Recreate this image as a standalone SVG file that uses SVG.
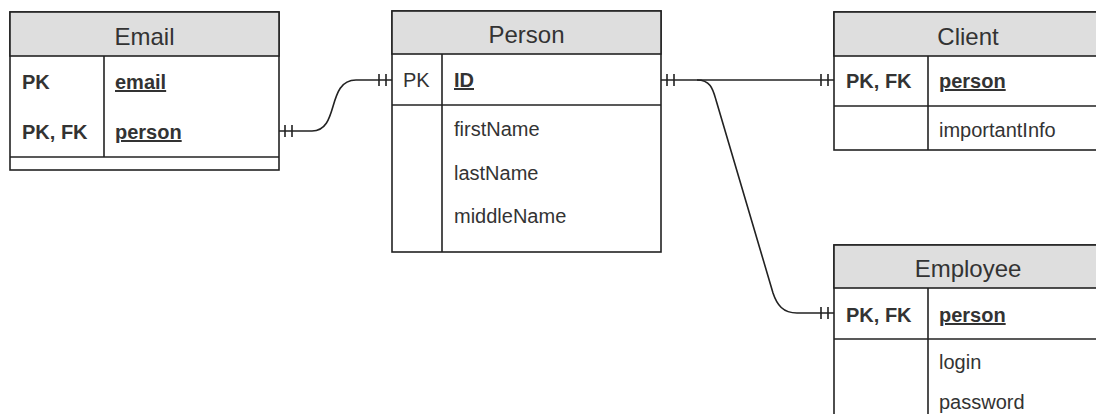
<svg xmlns="http://www.w3.org/2000/svg" width="1096" height="414" viewBox="0 0 1096 414">
<style>
.box{fill:#fff;stroke:#222;stroke-width:1.6}
.hdr{fill:#dedede;stroke:#222;stroke-width:1.6}
.ln{stroke:#222;stroke-width:1.6;fill:none}
.title{font-family:"Liberation Sans",Arial,sans-serif;font-size:24px;fill:#333;text-anchor:middle}
.t{font-family:"Liberation Sans",Arial,sans-serif;font-size:20px;fill:#333}
.b{font-weight:bold}
.u{text-decoration:underline}
.conn{stroke:#222;stroke-width:1.6;fill:none}
</style>
<rect width="1096" height="414" fill="#fff"/>
<g id="email">
<rect class="box" x="10" y="12" width="269" height="158"/>
<rect class="hdr" x="10" y="12" width="269" height="44"/>
<line class="ln" x1="104" y1="56" x2="104" y2="157"/>
<line class="ln" x1="10" y1="157" x2="279" y2="157"/>
<text class="title" x="144.5" y="45">Email</text>
<text class="t b" x="22" y="89">PK</text>
<text class="t b u" x="115" y="89">email</text>
<text class="t b" x="22" y="139">PK, FK</text>
<text class="t b u" x="115" y="139">person</text>
</g>
<g id="person">
<rect class="box" x="392" y="11" width="269" height="241"/>
<rect class="hdr" x="392" y="11" width="269" height="43"/>
<line class="ln" x1="392" y1="105" x2="661" y2="105"/>
<line class="ln" x1="442" y1="54" x2="442" y2="252"/>
<text class="title" x="526.5" y="43">Person</text>
<text class="t" x="403" y="87">PK</text>
<text class="t b u" x="454" y="87">ID</text>
<text class="t" x="454" y="136">firstName</text>
<text class="t" x="454" y="180">lastName</text>
<text class="t" x="454" y="223">middleName</text>
</g>
<g id="client">
<rect class="box" x="834" y="12" width="268" height="138"/>
<rect class="hdr" x="834" y="12" width="268" height="44"/>
<line class="ln" x1="834" y1="106" x2="1102" y2="106"/>
<line class="ln" x1="928" y1="56" x2="928" y2="150"/>
<text class="title" x="968" y="45">Client</text>
<text class="t b" x="846" y="88">PK, FK</text>
<text class="t b u" x="939" y="88">person</text>
<text class="t" x="939" y="137">importantInfo</text>
</g>
<g id="employee">
<rect class="box" x="834" y="245" width="268" height="180"/>
<rect class="hdr" x="834" y="245" width="268" height="43"/>
<line class="ln" x1="834" y1="339" x2="1102" y2="339"/>
<line class="ln" x1="928" y1="288" x2="928" y2="425"/>
<text class="title" x="968" y="277">Employee</text>
<text class="t b" x="846" y="322">PK, FK</text>
<text class="t b u" x="939" y="322">person</text>
<text class="t" x="939" y="369">login</text>
<text class="t" x="939" y="409">password</text>
</g>
<g id="connectors">
<path class="conn" d="M279,131 L312,131 C340,131 326,80 356,80 L392,80"/>
<path class="conn" d="M285,125 V137 M292,125 V137 M379,74 V86 M386,74 V86"/>
<path class="conn" d="M661,80 L834,80"/>
<path class="conn" d="M667,74 V86 M674,74 V86 M821,74 V86 M828,74 V86"/>
<path class="conn" d="M697,80 C711,80 713,90 716,100 L773,293 C777,305 783,313 797,313 L834,313"/>
<path class="conn" d="M821,307 V319 M828,307 V319"/>
</g>
</svg>
